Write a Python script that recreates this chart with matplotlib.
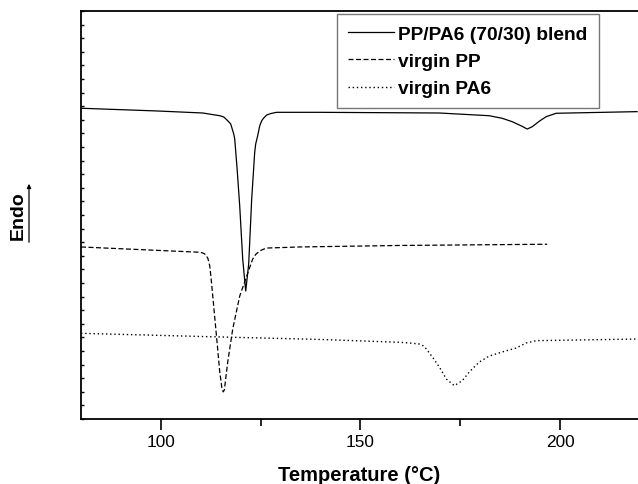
import matplotlib
matplotlib.use("Agg")
import matplotlib.pyplot as plt
from matplotlib.ticker import MultipleLocator

plt.rcParams['font.family'] = ['Liberation Sans', 'DejaVu Sans']

# Data (temperature in °C, heat flow in arbitrary units)
blend_T = [80, 99, 110.5, 114.75, 115.75, 116.75, 117.5, 118, 118.25, 118.5, 119.1, 119.75,
           120.5, 121.25, 122, 122.75, 123.5, 123.75, 124.25, 124.75, 125.25, 125.75,
           126.5, 127.5, 129, 139.75, 169.75, 182.25, 185.5, 188, 190.5, 191.75, 193,
           194.75, 196.5, 199, 219.25]
blend_y = [22.85, 22.65, 22.50, 22.30, 22.21, 21.93, 21.69, 21.20, 20.96, 20.59, 18.38, 15.66,
           11.76, 9.41, 11.40, 16.18, 19.60, 20.22, 20.83, 21.54, 21.93, 22.13,
           22.35, 22.46, 22.55, 22.55, 22.50, 22.30, 22.11, 21.86, 21.52, 21.32, 21.49,
           21.89, 22.23, 22.48, 22.60]

pp_T = [80, 109.75, 110.5, 111, 111.75, 112.25, 112.6, 113, 114, 114.75, 115.25, 115.6,
        115.9, 116.75, 118, 119.75, 121.5, 123, 123.75, 124.75, 125.5, 126.5, 134.75,
        159.75, 196.75]
pp_y = [12.65, 12.26, 12.21, 12.13, 11.84, 11.25, 10.29, 9.04, 5.88, 3.46, 2.35, 1.99,
        2.13, 4.19, 6.62, 9.04, 10.51, 11.76, 12.10, 12.35, 12.46, 12.57, 12.65,
        12.76, 12.85]

pa6_T = [80, 109.75, 139.75, 159.75, 162.25, 164.75, 165.75, 166.5, 168, 169.75, 171.5,
         173.5, 175.5, 177.25, 179.75, 182.25, 185.5, 189, 191.5, 194, 219.25]
pa6_y = [6.30, 6.07, 5.85, 5.64, 5.59, 5.51, 5.37, 5.15, 4.56, 3.82, 2.94,
         2.45, 2.82, 3.46, 4.19, 4.63, 4.93, 5.22, 5.59, 5.76, 5.88]

labels = ["PP/PA6 (70/30) blend", "virgin PP", "virgin PA6"]
x_ticks = [100, 150, 200]

fig = plt.figure(figsize=(6.38, 4.85), dpi=100)
ax = fig.add_axes([81/638, 65/485, 557/638, 408/485])

ax.plot(blend_T, blend_y, color='black', lw=0.9, ls='-', label=labels[0])
ax.plot(pp_T, pp_y, color='black', lw=0.9, ls=(0, (4, 2)), label=labels[1])
ax.plot(pa6_T, pa6_y, color='black', lw=1.0, ls=(0, (1, 2)), label=labels[2])

ax.set_xlim(80, 219.5)
ax.set_ylim(0, 30)

ax.spines['right'].set_visible(False)
for s in ['left', 'bottom', 'top']:
    ax.spines[s].set_linewidth(1.3)

ax.set_xticks(x_ticks)
ax.xaxis.set_minor_locator(MultipleLocator(25))
ax.tick_params(axis='x', which='major', direction='out', length=8, width=1.2,
               labelsize=12.4, pad=3, top=False)
ax.tick_params(axis='x', which='minor', direction='out', length=5, width=1.2, top=False)
ax.yaxis.set_major_locator(MultipleLocator(1))
ax.tick_params(axis='y', which='major', direction='in', length=2.5, width=1.0,
               labelleft=False, right=False)

ax.set_xlabel("Temperature (°C)", fontsize=14.5, fontweight='bold', labelpad=11)

leg = ax.legend(loc='upper left', bbox_to_anchor=((337-81)/557, 1 - 3/408),
                prop={'weight': 'bold', 'size': 13.8},
                frameon=True, fancybox=False, edgecolor='#555555',
                handlelength=2.4, handletextpad=0.22, labelspacing=0.52,
                borderpad=0.58, borderaxespad=0)
leg.get_frame().set_linewidth(1.0)

fig.text(18/638, 1 - 216/485, "Endo", rotation=90, fontsize=14, fontweight='bold',
         ha='center', va='center')
fig.add_artist(matplotlib.patches.FancyArrowPatch(
    (29/638, 1 - 246/485), (29/638, 1 - 182/485), transform=fig.transFigure,
    arrowstyle='-|>', mutation_scale=6, lw=0.9, color='black'))

fig.savefig("out.png", dpi=100)
